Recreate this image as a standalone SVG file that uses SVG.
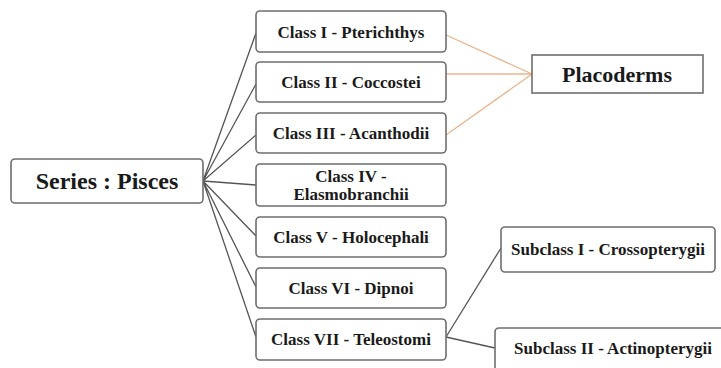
<svg xmlns="http://www.w3.org/2000/svg" width="721" height="368" viewBox="0 0 721 368">
<style>
.box{fill:#fff;stroke:#6e6e6e;stroke-width:1.6}
.t{fill:#1a1a1a;text-anchor:middle;dominant-baseline:central}
.ln{stroke:#555;stroke-width:1.3;fill:none}
.or{stroke:#eab48c;stroke-width:1.3;fill:none}
</style>
<rect width="721" height="368" fill="#fff"/>
<g id="connectors">
<path class="ln" d="M203 181 L256 33 M203 181 L256 84 M203 181 L256 135 M203 181 L256 185 M203 181 L256 236 M203 181 L256 287 M203 181 L256 337"/>
<path class="or" d="M446 35 L532 74 M446 74 L532 74 M446 135 L532 74"/>
<path class="ln" d="M446 337 L501 248 M446 337 L495 348"/>
</g>
<g id="series"><rect class="box" x="11" y="159" width="192" height="44" rx="4"/><text class="t" x="107" y="181" font-family="Liberation Serif" font-weight="bold" font-size="24">Series : Pisces</text></g>
<g id="class1"><rect class="box" x="256" y="11" width="190" height="41" rx="4"/><text class="t" x="351" y="32" font-family="Liberation Serif" font-weight="bold" font-size="17">Class I - Pterichthys</text></g>
<g id="class2"><rect class="box" x="256" y="62" width="190" height="40" rx="4"/><text class="t" x="351" y="82" font-family="Liberation Serif" font-weight="bold" font-size="17">Class II - Coccostei</text></g>
<g id="class3"><rect class="box" x="256" y="113" width="190" height="40" rx="4"/><text class="t" x="351" y="133" font-family="Liberation Serif" font-weight="bold" font-size="17">Class III - Acanthodii</text></g>
<g id="class4"><rect class="box" x="256" y="164" width="190" height="42" rx="4"/><text class="t" x="351" y="176" font-family="Liberation Serif" font-weight="bold" font-size="17">Class IV -</text><text class="t" x="351" y="194" font-family="Liberation Serif" font-weight="bold" font-size="17">Elasmobranchii</text></g>
<g id="class5"><rect class="box" x="256" y="217" width="190" height="40" rx="4"/><text class="t" x="351" y="237" font-family="Liberation Serif" font-weight="bold" font-size="17">Class V - Holocephali</text></g>
<g id="class6"><rect class="box" x="256" y="268" width="190" height="40" rx="4"/><text class="t" x="351" y="288" font-family="Liberation Serif" font-weight="bold" font-size="17">Class VI - Dipnoi</text></g>
<g id="class7"><rect class="box" x="256" y="319" width="190" height="41" rx="4"/><text class="t" x="351" y="339" font-family="Liberation Serif" font-weight="bold" font-size="17">Class VII - Teleostomi</text></g>
<g id="placoderms"><rect class="box" x="532" y="55" width="171" height="38"/><text class="t" x="617" y="74" font-family="Liberation Serif" font-weight="bold" font-size="22">Placoderms</text></g>
<g id="subclass1"><rect class="box" x="501" y="227" width="214" height="45" rx="4"/><text class="t" x="608" y="249" font-family="Liberation Serif" font-weight="bold" font-size="17">Subclass I - Crossopterygii</text></g>
<g id="subclass2"><rect class="box" x="495" y="328" width="240" height="50" rx="4"/><text class="t" x="613" y="348" font-family="Liberation Serif" font-weight="bold" font-size="17">Subclass II - Actinopterygii</text></g>
</svg>
